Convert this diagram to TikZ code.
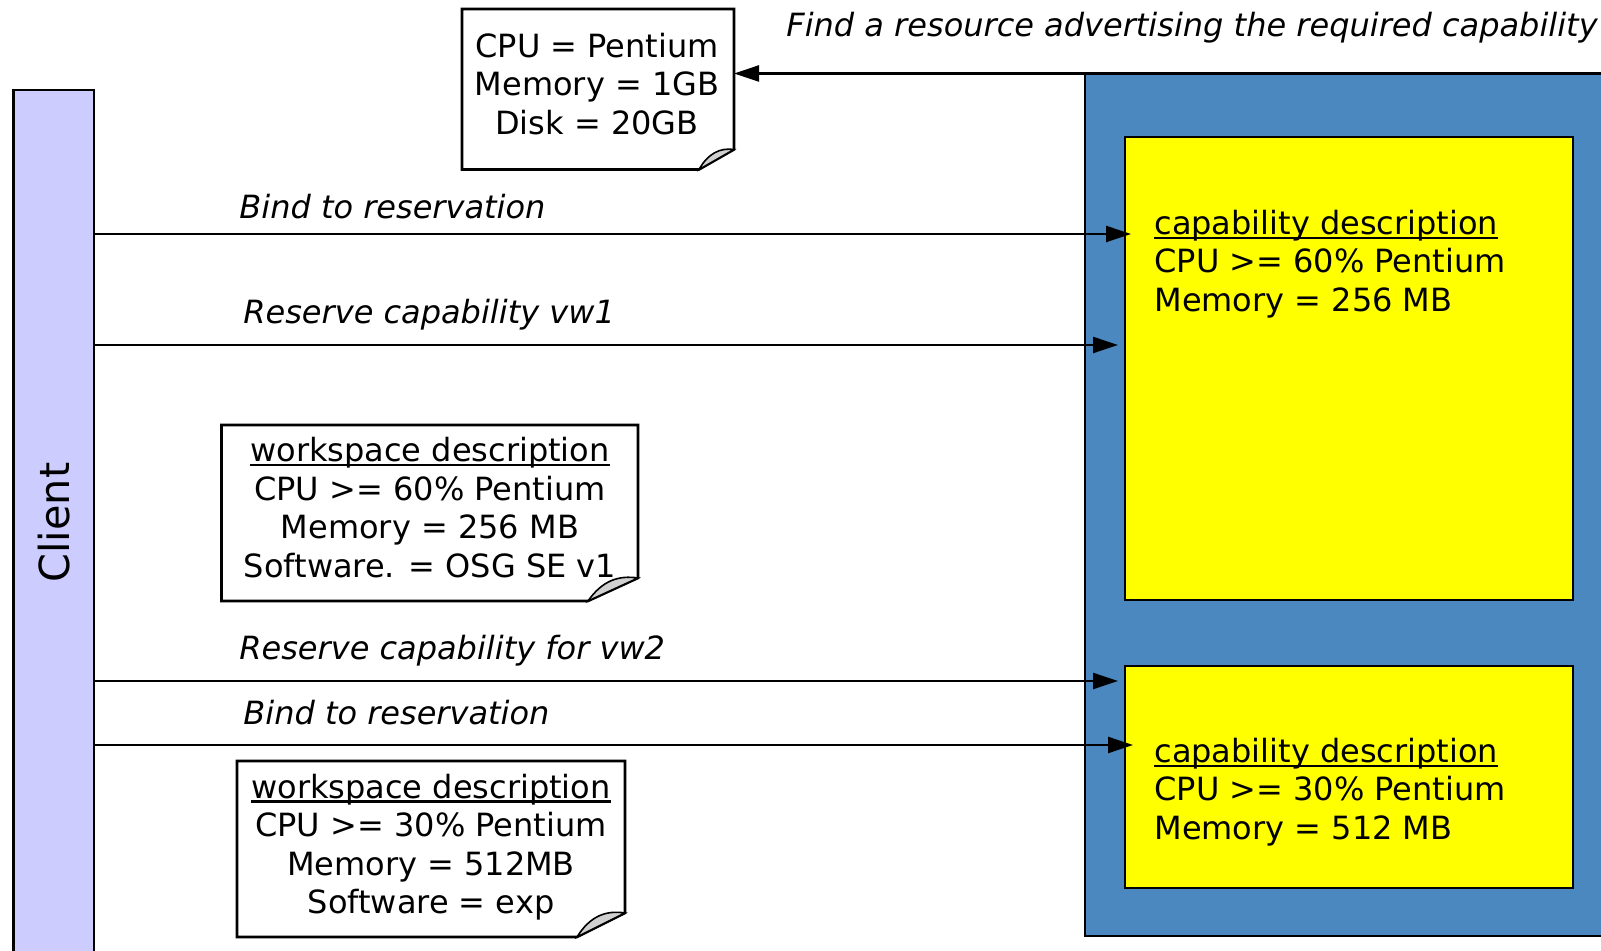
\documentclass[tikz,border=0pt]{standalone}
\usepackage{fontspec}
\setmainfont{DejaVu Sans}
\usetikzlibrary{arrows.meta,calc}
\definecolor{clientfill}{HTML}{CCCCFF}
\definecolor{hostblue}{HTML}{4A88BF}
\definecolor{capyellow}{HTML}{FFFF00}
\definecolor{foldgray}{HTML}{D0D0D0}
\newcommand{\myul}[1]{\setbox0\hbox{#1}\rlap{\rule[-0.14em]{\wd0}{0.07em}}\box0}
\begin{document}
\begin{tikzpicture}[x=0.5pt,y=-0.5pt,
  box/.style={draw=black, line width=1.3pt, inner sep=0pt, outer sep=0pt},
  notebox/.style={inner sep=0pt, outer sep=0pt},
  noteline/.style={draw=black, line width=1.3pt, fill=white, line join=miter},
  foldline/.style={draw=black, line width=0.8pt, fill=foldgray},
  txt/.style={font=\fontsize{16}{19.25}\selectfont, inner sep=0pt},
  lbl/.style={font=\fontsize{16}{19.25}\selectfont\itshape, inner sep=0pt, anchor=west},
  arr/.style={line width=1.2pt, -{Triangle[length=12.5pt,width=8pt]}}]
\useasboundingbox (0,0) rectangle (1601,951);
\clip (0,0) rectangle (1601,951);

% client lifeline box
\node[box, fill=clientfill, minimum width=40.25pt, minimum height=432.5pt,
      font=\fontsize{20.7}{24}\selectfont] (client) at (53.75,522.5) {\rotatebox{90}{Client}};

% resource (blue) and capabilities (yellow)
\node[box, fill=hostblue, minimum width=265pt, minimum height=431.25pt] (host) at (1350,504.75) {};
\node[box, fill=capyellow, minimum width=224pt, minimum height=231.5pt] (cap1) at (1349,368.5) {};
\node[box, fill=capyellow, minimum width=224pt, minimum height=111pt] (cap2) at (1349,777) {};
\node[txt, align=left, anchor=west] (cap1t) at (1154,264)
  {\myul{capability description}\\CPU >= 60\% Pentium\\Memory = 256 MB};
\node[txt, align=left, anchor=west] (cap2t) at (1154,792)
  {\myul{capability description}\\CPU >= 30\% Pentium\\Memory = 512 MB};

% notes
\node[notebox, minimum width=136pt, minimum height=80.25pt] (n1) at (598,89.25) {};
\draw[noteline] (n1.north west) -- (n1.north east) -- ($(n1.south east)+(0,-20)$)
  -- ($(n1.south east)+(-35,0)$) -- (n1.south west) -- cycle;
\draw[foldline] ($(n1.south east)+(0,-20)$) .. controls ($(n1.south east)+(-14,-22)$) and ($(n1.south east)+(-26,-16)$) .. ($(n1.south east)+(-35,0)$) -- cycle;
\node[txt, align=center] (n1t) at (597,84) {CPU = Pentium\\Memory = 1GB\\Disk = 20GB};

\node[notebox, minimum width=208.25pt, minimum height=88pt] (n2) at (429.75,513) {};
\draw[noteline] (n2.north west) -- (n2.north east) -- ($(n2.south east)+(0,-23)$)
  -- ($(n2.south east)+(-50,0)$) -- (n2.south west) -- cycle;
\draw[foldline] ($(n2.south east)+(0,-23)$) .. controls ($(n2.south east)+(-20,-26)$) and ($(n2.south east)+(-36,-20)$) .. ($(n2.south east)+(-50,0)$) -- cycle;
\node[txt, align=center] (n2t) at (430,507.5)
  {\myul{workspace description}\\CPU >= 60\% Pentium\\Memory = 256 MB\\Software. = OSG SE v1};

\node[notebox, minimum width=194pt, minimum height=88pt] (n3) at (431,849) {};
\draw[noteline] (n3.north west) -- (n3.north east) -- ($(n3.south east)+(0,-24)$)
  -- ($(n3.south east)+(-48,0)$) -- (n3.south west) -- cycle;
\draw[foldline] ($(n3.south east)+(0,-24)$) .. controls ($(n3.south east)+(-19,-27)$) and ($(n3.south east)+(-35,-21)$) .. ($(n3.south east)+(-48,0)$) -- cycle;
\node[txt, align=center] (n3t) at (431,847)
  {\myul{workspace description}\\CPU >= 30\% Pentium\\Memory = 512MB\\Software = exp};

% title and discovery arrow
\node[lbl] (title) at (786,27.5) {Find a resource advertising the required capability};
\draw[arr] (host.north west) -- (host.north west -| n1.east);

% messages
\coordinate (m1) at (0,234);
\coordinate (m2) at (0,345);
\coordinate (m3) at (0,681);
\coordinate (m4) at (0,745);
\draw[arr] (client.east |- m1) -- ($(cap1.west |- m1)+(6,0)$);
\draw[arr] (client.east |- m2) -- ($(cap1.west |- m2)+(-7,0)$);
\draw[arr] (client.east |- m3) -- ($(cap2.west |- m3)+(-7,0)$);
\draw[arr] (client.east |- m4) -- ($(cap2.west |- m4)+(8,0)$);
\node[lbl] (l1) at (239,207) {Bind to reservation};
\node[lbl] (l2) at (243,315) {Reserve capability vw1};
\node[lbl] (l3) at (239,651) {Reserve capability for vw2};
\node[lbl] (l4) at (243,713) {Bind to reservation};
\end{tikzpicture}
\end{document}
